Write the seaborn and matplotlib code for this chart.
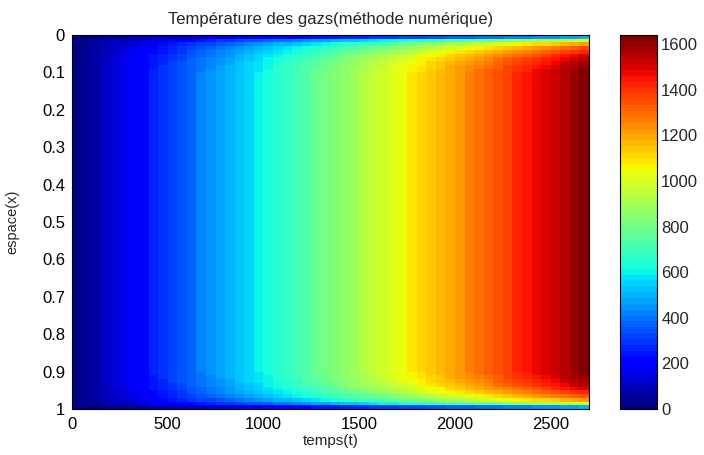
import numpy as np
import pandas as pd
import matplotlib
matplotlib.use("Agg")
import matplotlib.pyplot as plt
import seaborn as sns

# Time axis: cells of 50 s covering 0..2700 s
t_step = 50.0
t_end = 2700.0
# Gas temperature in the core of the channel at each time cell centre
core_temp = [15, 46, 76, 106, 137, 167, 197, 228, 258, 288, 319, 349, 379, 410,
             440, 470, 501, 531, 561, 592, 622, 652, 683, 713, 743, 774, 804, 834,
             865, 895, 925, 956, 986, 1016, 1047, 1077, 1107, 1138, 1168, 1198,
             1229, 1259, 1289, 1320, 1350, 1380, 1411, 1441, 1471, 1502, 1532,
             1562, 1593, 1623]

# Space axis: cells of 0.01 covering 0..1
x_step = 0.01
n_x = 100
# Relative temperature in the first cells next to each wall
wall_profile = [0.30, 0.60, 0.75, 0.83, 0.88, 0.92, 0.95, 0.97, 0.985, 0.995]

x_ticks = [0, 0.1, 0.2, 0.3, 0.4, 0.5, 0.6, 0.7, 0.8, 0.9, 1]
x_tick_labels = ["0", "0.1", "0.2", "0.3", "0.4", "0.5", "0.6", "0.7", "0.8", "0.9", "1"]
t_ticks = [0, 500, 1000, 1500, 2000, 2500]
cbar_ticks = [0, 200, 400, 600, 800, 1000, 1200, 1400, 1600]
c_min, c_max = 0, 1640

# Build the temperature field T(x, t)
profile = np.ones(n_x)
profile[:len(wall_profile)] = wall_profile
profile[-len(wall_profile):] = wall_profile[::-1]
field = pd.DataFrame(np.outer(profile, np.asarray(core_temp, dtype=float)))

sns.set_style("white")
plt.rcParams["font.family"] = ["Liberation Sans", "DejaVu Sans"]
plt.rcParams["font.size"] = 12

W, H = 704, 455
fig = plt.figure(figsize=(W / 100, H / 100), dpi=100)
ax_l, ax_r, ax_t, ax_b = 72, 589, 35, 409
ax = fig.add_axes([ax_l / W, 1 - ax_b / H, (ax_r - ax_l) / W, (ax_b - ax_t) / H])
cax = fig.add_axes([620 / W, 1 - ax_b / H, 37 / W, (ax_b - ax_t) / H])

cmap = matplotlib.colormaps["jet"].resampled(64)
sns.heatmap(field, ax=ax, cbar_ax=cax, cmap=cmap, vmin=c_min, vmax=c_max,
            xticklabels=False, yticklabels=False)

ax.set_xticks(np.asarray(t_ticks) / t_step)
ax.set_xticklabels([str(t) for t in t_ticks])
ax.set_yticks(np.asarray(x_ticks) / x_step)
ax.set_yticklabels(x_tick_labels, rotation=0)
ax.set_xlim(0, t_end / t_step)
ax.set_ylim(n_x, 0)

for s in ax.spines.values():
    s.set_visible(True)
    s.set_color("black")
    s.set_linewidth(0.8)
ax.tick_params(axis="both", direction="in", length=4, width=0.6, color="black",
               top=True, right=True, labelsize=12, labelcolor="black")
ax.tick_params(axis="x", pad=6)
ax.tick_params(axis="y", pad=5)

ax.set_xlabel("temps(t)", fontsize=11, labelpad=1)
ax.set_ylabel("espace(x)", fontsize=10.5, labelpad=16)
ax.set_title("Température des gazs(méthode numérique)", fontsize=12, pad=8)

cbar = ax.collections[0].colorbar
cbar.set_ticks(cbar_ticks)
cbar.set_ticklabels([str(v) for v in cbar_ticks])
cbar.outline.set_edgecolor("black")
cbar.outline.set_linewidth(0.8)
cax.tick_params(direction="in", length=4, width=0.6, color="black", right=True,
                left=False, labelsize=12, pad=3)

fig.savefig("out.png", dpi=100)
